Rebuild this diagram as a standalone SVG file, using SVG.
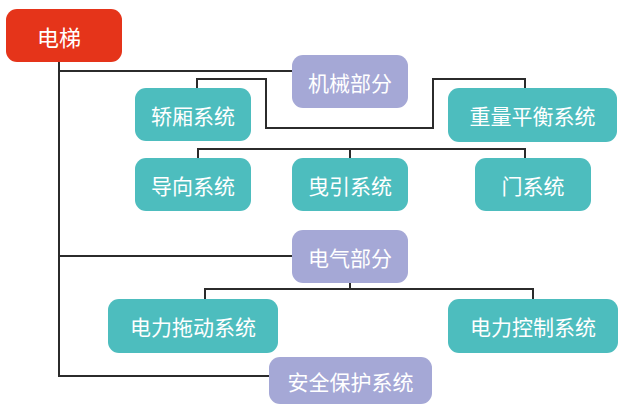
<svg xmlns="http://www.w3.org/2000/svg" width="629" height="412" viewBox="0 0 629 412">
<style>
.root{fill:#E5341A}
.part{fill:#A5A8D6}
.sys{fill:#4DBDBE}
text{fill:#ffffff;font-family:"Noto Sans CJK SC","Noto Sans",sans-serif;font-size:21px;text-anchor:middle;dominant-baseline:central}
.conn path{fill:none;stroke:#2b2b2b;stroke-width:2}
</style>
<rect width="629" height="412" fill="#ffffff"/>
<g class="conn">
<path d="M59 62 V376 H269"/>
<path d="M59 71 H292"/>
<path d="M197 88 V79 H266 V128 H433 V79 H525 V88"/>
<path d="M198 158 V149 H525 V158 M350 149 V158"/>
<path d="M59 256 H292"/>
<path d="M350 283 V289 M205 299 V289 H533 V299"/>
</g>
<g id="n-elevator"><rect class="root" x="6" y="9" width="116" height="53" rx="11"/><text x="59" y="35.5" style="font-size:22px">电梯</text></g>
<g id="n-mech"><rect class="part" x="292" y="55" width="116" height="53" rx="11"/><text x="350" y="81.5">机械部分</text></g>
<g id="n-car"><rect class="sys" x="135" y="88" width="116" height="53" rx="11"/><text x="193" y="114.5">轿厢系统</text></g>
<g id="n-counter"><rect class="sys" x="448" y="88" width="169" height="54" rx="11"/><text x="532.5" y="115">重量平衡系统</text></g>
<g id="n-guide"><rect class="sys" x="135" y="158" width="116" height="53" rx="11"/><text x="193" y="184.5">导向系统</text></g>
<g id="n-traction"><rect class="sys" x="292" y="158" width="116" height="53" rx="11"/><text x="350" y="184.5">曳引系统</text></g>
<g id="n-door"><rect class="sys" x="475" y="158" width="116" height="53" rx="11"/><text x="533" y="184.5">门系统</text></g>
<g id="n-elec"><rect class="part" x="292" y="230" width="116" height="53" rx="11"/><text x="350" y="256.5">电气部分</text></g>
<g id="n-drive"><rect class="sys" x="108" y="299" width="170" height="54" rx="11"/><text x="193" y="326">电力拖动系统</text></g>
<g id="n-control"><rect class="sys" x="448" y="299" width="170" height="54" rx="11"/><text x="533" y="326">电力控制系统</text></g>
<g id="n-safety"><rect class="part" x="269" y="357" width="163" height="47" rx="11"/><text x="350.5" y="380.5">安全保护系统</text></g>
</svg>
